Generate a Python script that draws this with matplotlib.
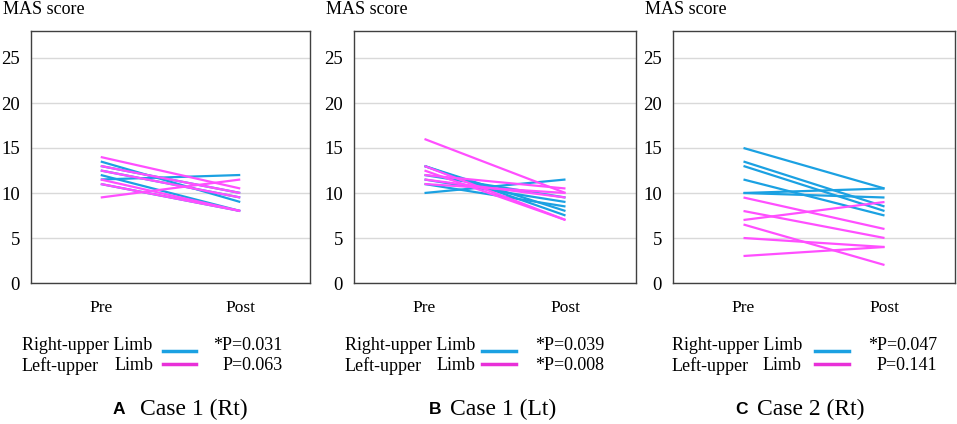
import matplotlib.pyplot as plt
from matplotlib.lines import Line2D

plt.rcParams['font.family'] = ['Liberation Serif', 'DejaVu Serif']

W, H = 957, 424

phases = ['Pre', 'Post']

# Case 1 (Rt)
right_pre_a = [13.5, 13.0, 12.5, 12.0, 11.5, 11.0]
right_post_a = [9.0, 10.0, 9.5, 8.0, 12.0, 8.0]
left_pre_a = [14.0, 13.0, 12.5, 11.5, 11.0, 9.5]
left_post_a = [10.5, 10.0, 9.5, 8.0, 8.0, 11.5]

# Case 1 (Lt)
right_pre_b = [13.0, 13.0, 12.0, 11.5, 11.0, 10.0]
right_post_b = [8.0, 7.5, 9.5, 9.0, 8.5, 11.5]
left_pre_b = [16.0, 13.0, 12.5, 12.0, 11.5, 11.0]
left_post_b = [10.0, 7.0, 7.0, 10.5, 9.5, 10.0]

# Case 2 (Rt)
right_pre_c = [15.0, 13.5, 13.0, 11.5, 10.0, 10.0]
right_post_c = [10.5, 8.5, 8.0, 7.5, 10.5, 9.5]
left_pre_c = [9.5, 8.0, 7.0, 6.5, 5.0, 3.0]
left_post_c = [6.0, 5.0, 9.0, 2.0, 4.0, 4.0]

p_right = ['*P=0.031', '*P=0.039', '*P=0.047']
p_left = ['P=0.063', '*P=0.008', 'P=0.141']
letters = ['A', 'B', 'C']
captions = ['Case 1 (Rt)', 'Case 1 (Lt)', 'Case 2 (Rt)']

blue = '#1ba1e2'
pink = '#ff4fff'

panels = [
    (right_pre_a, right_post_a, left_pre_a, left_post_a),
    (right_pre_b, right_post_b, left_pre_b, left_post_b),
    (right_pre_c, right_post_c, left_pre_c, left_post_c),
]

# axes boxes in pixels: left, width
boxes = [(31, 279), (354, 282), (673, 282)]
top, bottom = 31, 283
# legend layout offsets (pixels from box left)
leg = [
    dict(txt=-9, limb=122, l0=132, l1=165, p=252, let=82, cap=109),
    dict(txt=-9, limb=121, l0=128, l1=162, p=250, let=75, cap=96),
    dict(txt=-1, limb=128, l0=142, l1=176, p=264, let=62, cap=84),
]


def fx(x):
    return x / W


def fy(y):
    return 1 - y / H


fig = plt.figure(figsize=(W / 100, H / 100), dpi=100)

for i, (rp, rq, lp, lq) in enumerate(panels):
    left, width = boxes[i]
    ax = fig.add_axes([fx(left), fy(bottom), width / W, (bottom - top) / H])
    for a, b in zip(rp, rq):
        ax.plot([0, 1], [a, b], color=blue, lw=1.6, solid_capstyle='butt')
    for a, b in zip(lp, lq):
        ax.plot([0, 1], [a, b], color=pink, lw=1.6, solid_capstyle='butt')
    ax.set_xlim(-0.5, 1.5)
    ax.set_ylim(0, 28)
    ax.set_yticks(range(0, 30, 5))
    ax.set_xticks([0, 1])
    ax.set_xticklabels(phases)
    ax.tick_params(axis='both', length=0, labelsize=13.5)
    ax.tick_params(axis='y', pad=8)
    ax.tick_params(axis='x', pad=12, labelsize=12.5)
    ax.grid(axis='y', color='#d9d9d9', lw=1)
    ax.set_axisbelow(True)
    for s in ax.spines.values():
        s.set_color('#404040')
        s.set_linewidth(1)

    fig.text(fx(left - 28), fy(9), 'MAS score', fontsize=13, va='center', ha='left')

    L = leg[i]
    fig.text(fx(left + L['txt']), fy(345), 'Right-upper Limb', fontsize=13, va='center')
    fig.text(fx(left + L['txt']), fy(366), 'Left-upper', fontsize=13, va='center')
    fig.text(fx(left + L['limb']), fy(366), 'Limb', fontsize=13, va='center', ha='right')
    fig.add_artist(Line2D([fx(left + L['l0']), fx(left + L['l1'])], [fy(351), fy(351)],
                          color=blue, lw=2.5))
    fig.add_artist(Line2D([fx(left + L['l0']), fx(left + L['l1'])], [fy(364), fy(364)],
                          color='#e830d8', lw=2.5))
    fig.text(fx(left + L['p']), fy(345), p_right[i], fontsize=13, va='center', ha='right')
    fig.text(fx(left + L['p']), fy(366), p_left[i], fontsize=13, va='center', ha='right')

    fig.text(fx(left + L['let']), fy(409), letters[i], fontsize=12.5, va='center',
             family=['Liberation Sans', 'DejaVu Sans'], weight='bold')
    fig.text(fx(left + L['cap']), fy(409), captions[i], fontsize=17, va='center')

fig.savefig('out.png', dpi=100)
